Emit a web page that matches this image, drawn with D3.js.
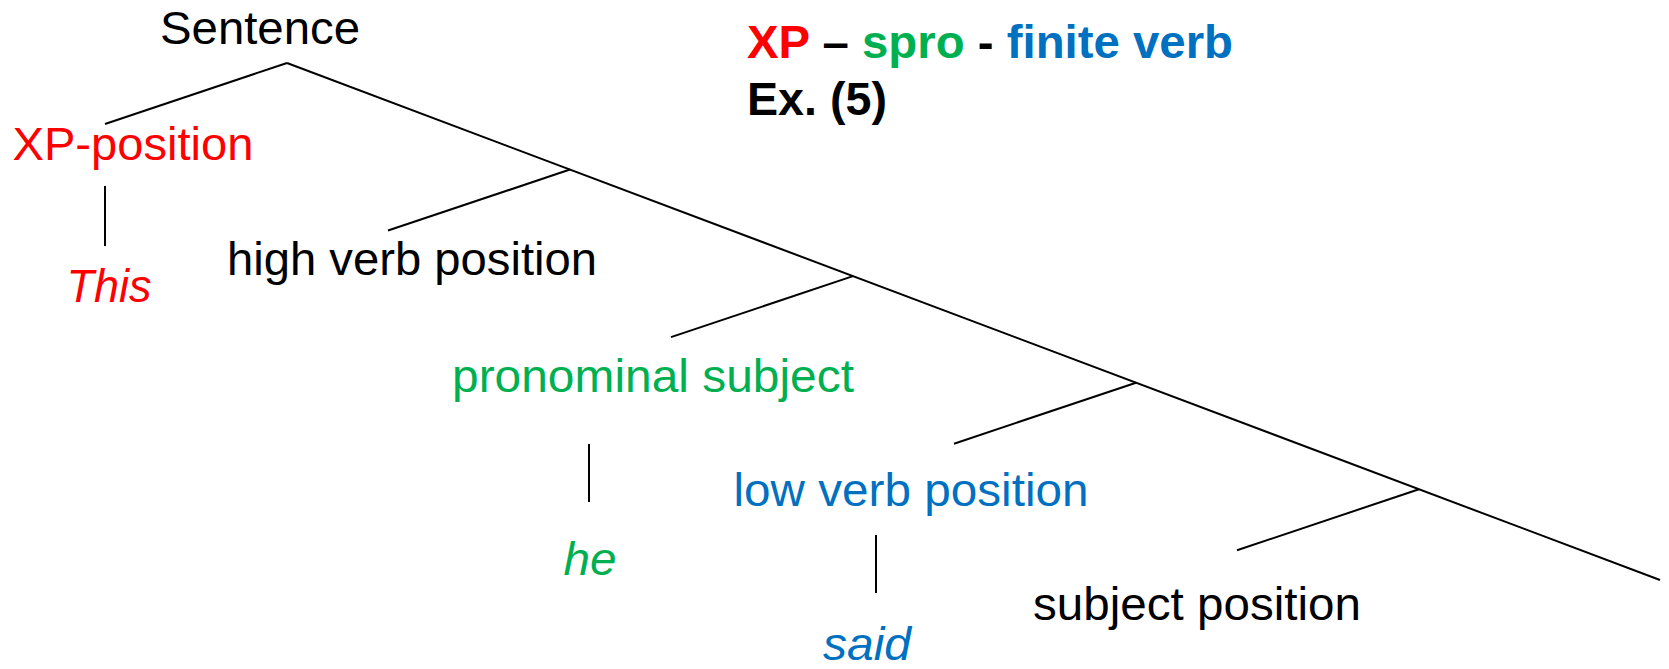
<!DOCTYPE html>
<html>
<head>
<meta charset="utf-8">
<script src="https://cdn.jsdelivr.net/npm/d3@7/dist/d3.min.js"></script>
<style>
  html, body { margin: 0; padding: 0; background: #ffffff; }
  svg { display: block; }
  text { font-family: "Liberation Sans", Arial, sans-serif; }
</style>
</head>
<body>
<svg id="chart" width="1669" height="669"></svg>
<script>
// ---------- data ----------
const rootLabel = "Sentence";
const positionLabels = ["XP-position", "high verb position", "pronominal subject", "low verb position", "subject position"];
const positionColors = ["#FF0000", "#000000", "#00B050", "#0070C0", "#000000"];
const words = ["This", null, "he", "said", null];
const titleParts = ["XP", " \u2013 ", "spro", " - ", "finite verb"];
const titleColors = ["#FF0000", "#000000", "#00B050", "#000000", "#0070C0"];
const exampleLabel = "Ex. (5)";

// ---------- layout (not data) ----------
const layout = {
  fontSize: 46,
  spineStart: [287, 63],
  spineEnd: [1660, 580],
  lastNodeX: 1419,
  branch: [-182, 61],
  root: { x: 260, y: 44, w: 200 },
  labels: [ {x: 133, y: 160, w: 241}, {x: 412, y: 275, w: 370}, {x: 653, y: 392, w: 402},
            {x: 911, y: 506, w: 355}, {x: 1197, y: 620, w: 328} ],
  stems: [ {x: 105, y1: 186, y2: 246}, null, {x: 589, y1: 444, y2: 502}, {x: 876, y1: 535, y2: 593}, null ],
  words: [ {x: 109, y: 302, w: 85}, null, {x: 590, y: 575, w: 53}, {x: 867, y: 660, w: 88}, null ],
  title: { x: 747, y: 58, w: 486 },
  example: { x: 747, y: 115, w: 140 }
};

const svg = d3.select("#chart");
const n = positionLabels.length;

// scales placing the spine nodes
const xNode = d3.scaleLinear().domain([0, n - 1]).range([layout.spineStart[0], layout.lastNodeX]);
const ySpine = d3.scaleLinear().domain([layout.spineStart[0], layout.spineEnd[0]])
  .range([layout.spineStart[1], layout.spineEnd[1]]);

const nodes = d3.range(n).map(i => {
  const x = xNode(i), y = ySpine(x);
  return { i, x, y, lx: x + layout.branch[0], ly: y + layout.branch[1] };
});

const g = svg.append("g").attr("stroke", "#000").attr("stroke-width", 2).attr("fill", "none");

// main spine
g.append("line")
  .attr("x1", layout.spineStart[0]).attr("y1", layout.spineStart[1])
  .attr("x2", layout.spineEnd[0]).attr("y2", layout.spineEnd[1]);

// left branches
g.selectAll("line.branch").data(nodes).join("line")
  .attr("class", "branch")
  .attr("x1", d => d.x).attr("y1", d => d.y)
  .attr("x2", d => d.lx).attr("y2", d => d.ly);

// stems to words
const stemData = layout.stems.map((s, i) => ({ s, i })).filter(d => d.s && words[d.i]);
g.selectAll("line.stem").data(stemData).join("line")
  .attr("class", "stem")
  .attr("x1", d => d.s.x).attr("x2", d => d.s.x)
  .attr("y1", d => d.s.y1).attr("y2", d => d.s.y2);

// root label
svg.append("text")
  .attr("x", layout.root.x).attr("y", layout.root.y)
  .attr("text-anchor", "middle")
  .attr("font-size", layout.fontSize)
  .attr("textLength", layout.root.w).attr("lengthAdjust", "spacingAndGlyphs")
  .attr("fill", "#000")
  .text(rootLabel);

// position labels
svg.selectAll("text.pos").data(positionLabels).join("text")
  .attr("class", "pos")
  .attr("x", (d, i) => layout.labels[i].x).attr("y", (d, i) => layout.labels[i].y)
  .attr("text-anchor", "middle")
  .attr("font-size", layout.fontSize)
  .attr("textLength", (d, i) => layout.labels[i].w).attr("lengthAdjust", "spacingAndGlyphs")
  .attr("fill", (d, i) => positionColors[i])
  .text(d => d);

// words
const wordData = words.map((w, i) => ({ w, i })).filter(d => d.w);
svg.selectAll("text.word").data(wordData).join("text")
  .attr("class", "word")
  .attr("x", d => layout.words[d.i].x).attr("y", d => layout.words[d.i].y)
  .attr("text-anchor", "middle")
  .attr("font-size", layout.fontSize)
  .attr("font-style", "italic")
  .attr("textLength", d => layout.words[d.i].w).attr("lengthAdjust", "spacingAndGlyphs")
  .attr("fill", d => positionColors[d.i])
  .text(d => d.w);

// title
const title = svg.append("text")
  .attr("x", layout.title.x).attr("y", layout.title.y)
  .attr("font-size", layout.fontSize).attr("font-weight", "bold")
  .attr("textLength", layout.title.w).attr("lengthAdjust", "spacingAndGlyphs")
  .attr("xml:space", "preserve").style("white-space", "pre");
title.selectAll("tspan").data(titleParts).join("tspan")
  .attr("fill", (d, i) => titleColors[i])
  .text(d => d);

svg.append("text")
  .attr("x", layout.example.x).attr("y", layout.example.y)
  .attr("font-size", layout.fontSize).attr("font-weight", "bold")
  .attr("textLength", layout.example.w).attr("lengthAdjust", "spacingAndGlyphs")
  .attr("fill", "#000")
  .text(exampleLabel);
</script>
</body>
</html>
